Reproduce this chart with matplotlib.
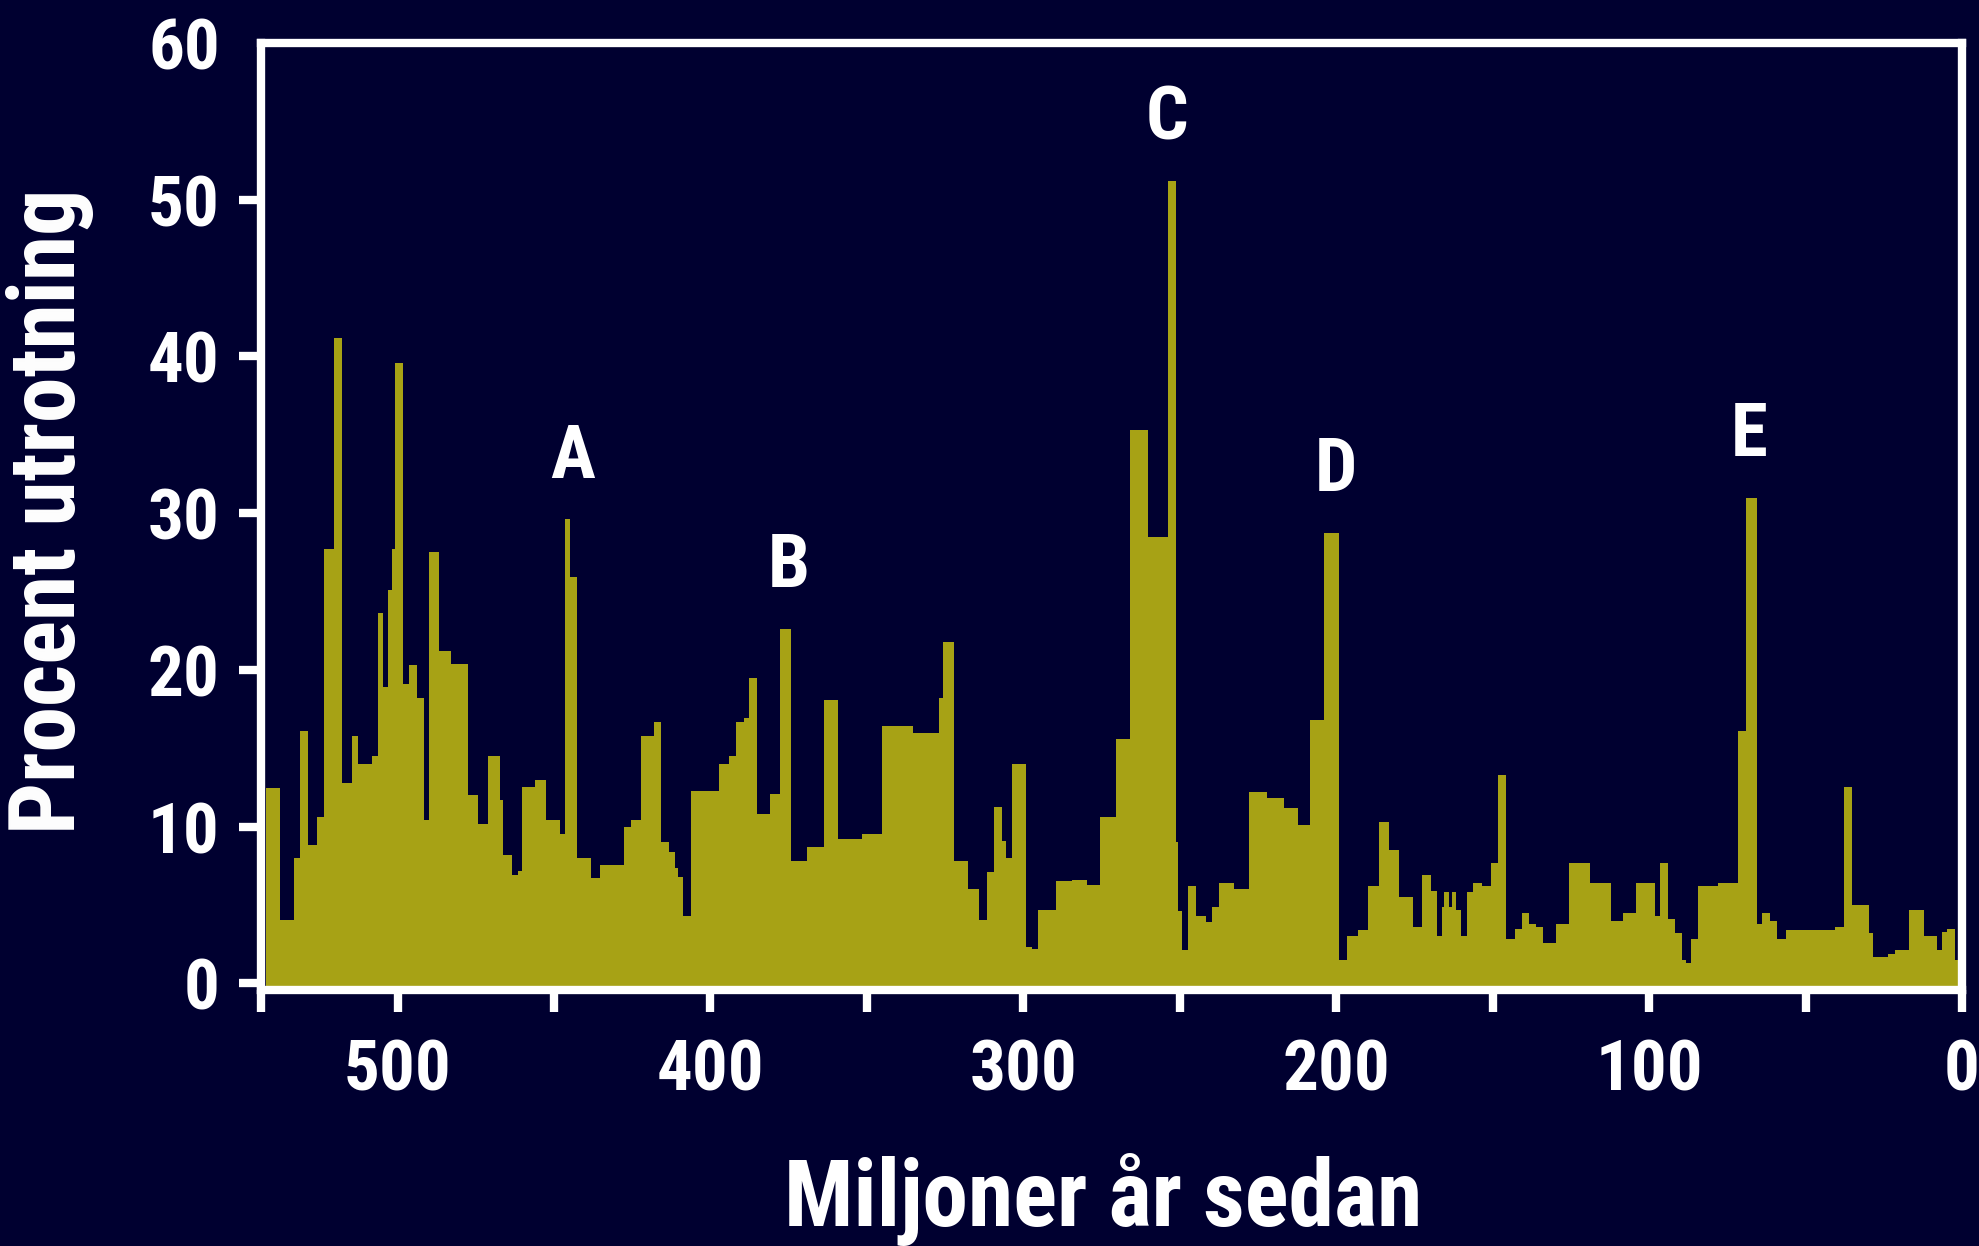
import numpy as np
import matplotlib
matplotlib.use('Agg')
import matplotlib.pyplot as plt
from matplotlib import font_manager as fm

# Intervallgränser i miljoner år sedan, äldst först
edges = [542, 537.5, 533.2, 531.1, 528.6, 525.6, 523.4, 520.2, 517.8, 514.7,
         512.6, 508.3, 506.2, 504.8, 502.9, 501.8, 500.7, 498.3, 496.2, 493.8,
         491.4, 489.8, 486.9, 482.9, 477.4, 474.2, 471.0, 467.4, 466.2, 463.4,
         461.4, 460.3, 456.0, 452.6,
         448.0, 446.6, 444.8, 442.7, 438.3, 435.4, 427.7, 425.3, 422.1, 418.0,
         415.7, 413.2, 411.4, 410.4, 408.8, 406.1, 397.4, 394.2, 391.7, 389.4,
         387.7, 385.1, 381.1, 377.9, 374.2, 369.1, 363.8, 359.2,
         351.7, 345.3, 335.1, 326.9, 325.7, 322.1, 317.7, 314.3, 311.7, 309.3,
         306.9, 305.6, 303.7, 299.2, 297.3, 295.2, 289.6, 284.3, 279.5, 275.4,
         270.3, 265.8,
         260.1, 253.9, 251.2, 250.6, 249.3, 247.5, 244.8, 241.6, 239.7, 237.6,
         232.8, 227.8, 222.1, 216.8, 212.2, 208.5, 204.0, 199.2, 196.5, 193.0,
         189.9, 186.4, 183.0, 180.0, 175.4, 172.5,
         169.8, 167.7, 166.1, 165.4, 164.0, 163.1, 161.6, 160.2, 158.3, 156.3,
         153.5, 150.6, 148.3, 145.8, 142.8, 140.5, 138.3, 136.2, 133.8, 129.8,
         125.6, 118.9, 112.3, 108.3, 104.3, 98.2, 96.6, 93.9, 91.7, 89.5,
         88.2, 86.6, 84.5,
         77.9, 71.5, 69.0, 65.6, 63.9, 61.3, 59.2, 56.2, 40.7, 37.8,
         35.1, 29.6, 28.3, 23.7, 21.3, 17.0, 12.2, 7.9, 6.3, 4.7,
         2.1, 0]

# Procent utrotning i varje intervall
pct = [12.45, 4.07, 7.98, 16.1, 8.83, 10.6, 27.7, 41.2, 12.8, 15.8,
       14.0, 14.5, 23.6, 18.9, 25.1, 27.7, 39.6, 19.1, 20.3, 18.2,
       10.4, 27.5, 21.2, 20.4, 12.0, 10.2, 14.5, 11.7, 8.2, 6.9,
       7.2, 12.5, 13.0,
       10.4, 9.5, 29.6, 25.9, 8.0, 6.7, 7.55, 10.0, 10.4, 15.8,
       16.7, 9.0, 8.4, 7.35, 6.8, 4.3, 12.3, 14.0, 14.5, 16.7,
       16.9, 19.5, 10.8, 12.1, 22.6, 7.8, 8.7, 18.1,
       9.2, 9.5, 16.4, 16.0, 18.2, 21.8, 7.8, 6.0, 4.05, 7.1,
       11.25, 9.1, 8.0, 14.0, 2.3, 2.2, 4.7, 6.5, 6.6, 6.3,
       10.6, 15.6,
       35.3, 28.45, 51.2, 9.0, 4.6, 2.1, 6.2, 4.3, 3.9, 4.9,
       6.4, 6.0, 12.2, 11.8, 11.2, 10.1, 16.8, 28.75, 1.5, 3.0,
       3.4, 6.2, 10.3, 8.5, 5.5, 3.6,
       6.9, 5.9, 3.0, 4.9, 5.8, 4.9, 5.8, 4.7, 3.0, 5.8,
       6.4, 6.2, 7.7, 13.3, 2.85, 3.5, 4.5, 3.8, 3.6, 2.6,
       3.8, 7.7, 6.4, 4.0, 4.5, 6.4, 4.3, 7.7, 4.1, 3.2,
       1.5, 1.3, 2.8,
       6.2, 6.4, 16.1, 31.0, 3.8, 4.5, 4.0, 2.8, 3.4, 3.6,
       12.5, 5.0, 3.2, 1.66, 1.9, 2.1, 4.7, 3.0, 2.1, 3.3,
       3.5, 1.5]

# De fem stora massutdöendena
events = ['A', 'B', 'C', 'D', 'E']
event_age = [444, 375, 254, 200, 68]

xticks = [500, 400, 300, 200, 100, 0]
yticks = [0, 10, 20, 30, 40, 50, 60]

bg = '#000030'
fill = '#A7A215'


def pick_font():
    # smal fet sans om en sådan finns installerad
    order = ['Liberation Sans Narrow', 'Roboto Condensed', 'Open Sans Condensed',
             'Noto Sans', 'Roboto', 'Open Sans', 'DejaVu Sans', 'Lato', 'Inter']
    best = None
    for f in fm.fontManager.ttflist:
        narrow = ('Narrow' in f.name or 'Condensed' in f.name
                  or f.stretch in ('condensed', 'semi-condensed', 'extra-condensed', 'ultra-condensed'))
        w = f.weight if isinstance(f.weight, int) else {'bold': 700, 'semibold': 600,
                                                        'heavy': 800, 'black': 900}.get(f.weight, 400)
        if not narrow or w < 600 or 'italic' in f.style or 'oblique' in f.style:
            continue
        rank = next((i for i, n in enumerate(order) if f.name.startswith(n)), len(order))
        key = (rank, abs(w - 700))
        if best is None or key < best[0]:
            best = (key, f.fname)
    if best is None:
        return fm.FontProperties(family='DejaVu Sans', weight='bold')
    return fm.FontProperties(fname=best[1])


fp = pick_font()


def font(size):
    p = fp.copy()
    p.set_size(size)
    return p


edges = np.array(edges)
pct = np.array(pct)
assert len(edges) == len(pct) + 1

y_bottom = -0.42

fig = plt.figure(figsize=(19.79, 12.46), dpi=100, facecolor=bg)
ax = fig.add_axes([0.1321, 0.2055, 0.8593, 0.7600])
ax.set_facecolor(bg)

# stegfunktion fylld ned till x-axeln
ax.stairs(pct[::-1], edges[::-1], fill=True, color=fill, baseline=y_bottom)

# bokstav ovanför högsta stapeln nära varje händelse
mids = (edges[:-1] + edges[1:]) / 2
for name, age in zip(events, event_age):
    near = np.where(np.abs(mids - age) < 3)[0]
    top = pct[near].max()
    ax.annotate(name, xy=(age, top), xytext=(0, 30), textcoords='offset points',
                ha='center', va='baseline', color='white', fontproperties=font(54))

x_left = 543.5
ax.set_xlim(x_left, 0)
ax.set_ylim(y_bottom, 60)

for s in ax.spines.values():
    s.set_color('white')
    s.set_linewidth(6)

ax.set_xticks(xticks)
ax.set_xticks([x_left, 450, 350, 250, 150, 50], minor=True)
ax.set_yticks(yticks)
ax.tick_params(axis='both', which='both', direction='out', length=16, width=6,
               color='white', labelcolor='white')
ax.tick_params(axis='x', pad=18)
ax.tick_params(axis='y', pad=14)
for lab in ax.get_xticklabels() + ax.get_yticklabels():
    lab.set_fontproperties(font(51))
ax.yaxis.get_major_ticks()[-1].tick1line.set_visible(False)

fig.text(0.5574, 0.0160, 'Miljoner år sedan', ha='center', va='baseline',
         color='white', fontproperties=font(66))
fig.text(0.025, 0.590, 'Procent utrotning', rotation=90, ha='center', va='center',
         color='white', fontproperties=font(66))

fig.savefig('out.png', dpi=100, facecolor=bg)
